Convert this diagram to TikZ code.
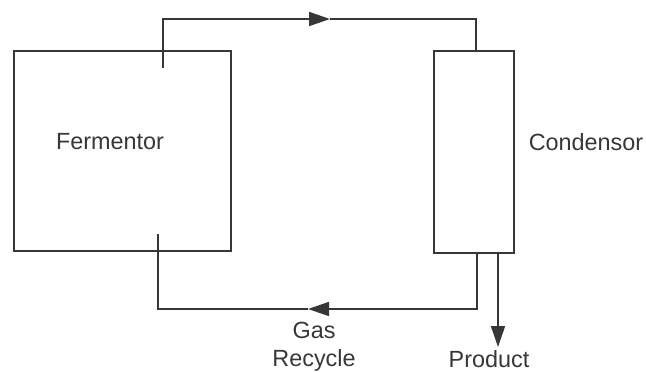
\documentclass[tikz,border=0pt]{standalone}
\usepackage{fontspec}
\setmainfont{Liberation Sans}
\usetikzlibrary{arrows.meta, positioning}
\definecolor{inkgray}{RGB}{55,55,55}
\tikzstyle{pipe} = [line width=0.8pt, draw=inkgray]
\tikzstyle{flow} = [pipe, -{Triangle[length=10.5pt,width=7pt]}]

\begin{document}
\begin{tikzpicture}[x=0.5pt, y=-0.5pt, font=\fontsize{11.7}{14}\selectfont]
        \tikzstyle{vessel}=[rectangle, draw=inkgray, line width=0.8pt, inner sep=0pt]
        \tikzstyle{lbl}=[inner sep=0pt, text=inkgray, align=center]
        \useasboundingbox (0,0) rectangle (646,371);
        % vessels
        \node (ferm) [vessel, minimum width=108.5pt, minimum height=100pt] at (122.5,151) {};
        \node (cond) [vessel, minimum width=40pt, minimum height=101pt] at (474,152) {};
        \node (fermlabel) [lbl] at (110,142) {Fermentor};
        \node (condlabel) [lbl] at (586,142) {Condensor};
        \node (gaslabel) [lbl] at (314,347) {Gas\\Recycle};
        \node (prodlabel) [lbl] at (489,359) {Product};
        % pipe ends
        \coordinate (fout) at (163,68);
        \coordinate (fin) at (158,234);
        \coordinate (topflow) at (330,19);
        \coordinate (botflow) at (308,309);
        \coordinate (prodout) at ([xshift=12pt]cond.south);
        \draw[flow] (fout) |- (topflow);
        \draw[pipe] (topflow) -| ([xshift=1pt]cond.north);
        \draw[flow] ([xshift=1.5pt]cond.south) |- (botflow);
        \draw[pipe] (botflow) -| (fin);
        \draw[flow, shorten >=1.5pt] (prodout) -- (prodout |- prodlabel.north);
    \end{tikzpicture}
\end{document}
